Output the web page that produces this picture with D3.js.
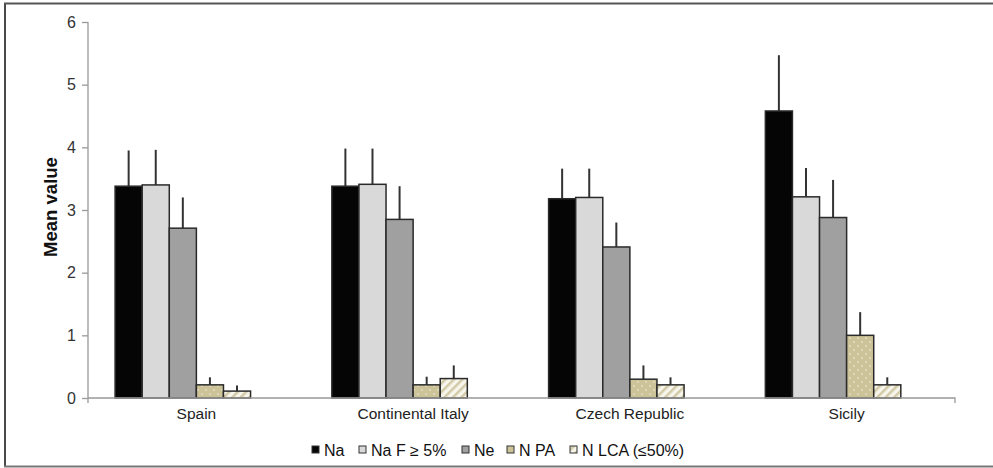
<!DOCTYPE html>
<html>
<head>
<meta charset="utf-8">
<script src="https://cdn.jsdelivr.net/npm/d3@7/dist/d3.min.js"></script>
<style>
html,body{margin:0;padding:0;background:#fff;}
svg{display:block;font-family:"Liberation Sans",Arial,sans-serif;}
</style>
</head>
<body>
<svg id="chart" width="993" height="468"></svg>
<script>
const categories = ["Spain", "Continental Italy", "Czech Republic", "Sicily"];
const seriesNames = ["Na", "Na F \u2265 5%", "Ne", "N PA", "N LCA (\u226450%)"];
const na      = [3.38, 3.38, 3.18, 4.58];
const naF     = [3.40, 3.41, 3.20, 3.21];
const ne      = [2.71, 2.85, 2.41, 2.88];
const nPA     = [0.21, 0.21, 0.30, 1.00];
const nLCA    = [0.11, 0.31, 0.21, 0.21];
const naErr   = [0.57, 0.60, 0.48, 0.89];
const naFErr  = [0.56, 0.57, 0.46, 0.46];
const neErr   = [0.49, 0.53, 0.39, 0.60];
const nPAErr  = [0.12, 0.13, 0.22, 0.37];
const nLCAErr = [0.09, 0.21, 0.12, 0.12];
const yTicks  = [0, 1, 2, 3, 4, 5, 6];

const seriesValues = [na, naF, ne, nPA, nLCA];
const seriesErrs = [naErr, naFErr, neErr, nPAErr, nLCAErr];
const fills = ["#050505", "#d9d9d9", "#a0a0a0", "url(#dots)", "url(#stripes)"];

const svg = d3.select("#chart");
const defs = svg.append("defs");
const dots = defs.append("pattern").attr("id","dots").attr("patternUnits","userSpaceOnUse")
  .attr("width",8).attr("height",8);
dots.append("rect").attr("width",8).attr("height",8).attr("fill","#cdc399");
dots.append("circle").attr("cx",2).attr("cy",2).attr("r",0.8).attr("fill","#f4f0e0");
dots.append("circle").attr("cx",6).attr("cy",6).attr("r",0.8).attr("fill","#f4f0e0");
const stripes = defs.append("pattern").attr("id","stripes").attr("patternUnits","userSpaceOnUse")
  .attr("width",6).attr("height",6).attr("patternTransform","rotate(45)");
stripes.append("rect").attr("width",6).attr("height",6).attr("fill","#f7f5ec");
stripes.append("rect").attr("width",2.5).attr("height",6).attr("fill","#d2caa6");

// frame
svg.append("line").attr("x1",5).attr("x2",5).attr("y1",3).attr("y2",467).attr("stroke","#4a4a4a").attr("stroke-width",2);
svg.append("line").attr("x1",4).attr("x2",993).attr("y1",3.5).attr("y2",3.5).attr("stroke","#555").attr("stroke-width",2);
svg.append("line").attr("x1",4).attr("x2",993).attr("y1",466.5).attr("y2",466.5).attr("stroke","#777").attr("stroke-width",2);

const pLeft = 88, pRight = 955, pTop = 22, pBottom = 398;
const y = d3.scaleLinear().domain([0,6]).range([pBottom, pTop]);
const x0 = d3.scaleBand().domain(categories).range([pLeft, pRight]).padding(0);
const slots = d3.range(6);
const x1 = d3.scaleBand().domain(slots).range([0, x0.bandwidth()]).paddingInner(0).paddingOuter(1);

// y axis
const yAxis = svg.append("g").attr("transform",`translate(${pLeft},0)`)
  .call(d3.axisLeft(y).tickValues(yTicks).tickSize(6).tickPadding(6).tickFormat(d3.format("d")));
yAxis.select(".domain").attr("stroke","#999").attr("stroke-width",1.3).attr("d",`M-0,${pTop}V${pBottom+5}`);
yAxis.selectAll(".tick line").attr("stroke","#999").attr("stroke-width",1.3);
yAxis.selectAll(".tick text").attr("fill","#333").style("font-size","16px");

// bars
seriesValues.forEach((vals, s) => {
  const g = svg.append("g");
  categories.forEach((c, i) => {
    const bx = x0(c) + x1(s);
    const bw = x1.bandwidth();
    const v = vals[i];
    const e = seriesErrs[s][i];
    g.append("line").attr("x1", bx + bw/2).attr("x2", bx + bw/2)
      .attr("y1", y(v)).attr("y2", y(v + e)).attr("stroke","#333").attr("stroke-width",2);
    g.append("rect").attr("x", bx).attr("y", y(v)).attr("width", bw).attr("height", y(0) - y(v))
      .attr("fill", fills[s]).attr("stroke","#2a2a2a").attr("stroke-width",1.5);
  });
});

// x axis
const xAxis = svg.append("g").attr("transform",`translate(0,${pBottom})`)
  .call(d3.axisBottom(x0).tickSize(0).tickPadding(10));
xAxis.select(".domain").attr("stroke","#999").attr("stroke-width",1.3).attr("d",`M${pLeft},0H${pRight}V5`);
xAxis.selectAll(".tick text").attr("fill","#222").style("font-size","15.5px");

// y label
svg.append("text").attr("transform","translate(57,207) rotate(-90)").attr("text-anchor","middle")
  .style("font-size","18.5px").style("font-weight","bold").attr("fill","#111").text("Mean value");

// legend
const legendX = [312, 359, 462, 507, 570];
const lg = svg.append("g");
seriesNames.forEach((n, s) => {
  lg.append("rect").attr("x", legendX[s]).attr("y", 446).attr("width",7).attr("height",7)
    .attr("fill", fills[s]).attr("stroke","#333").attr("stroke-width",1);
  lg.append("text").attr("x", legendX[s] + 12).attr("y", 456).style("font-size","16px")
    .attr("fill","#111").text(n);
});
</script>
</body>
</html>
